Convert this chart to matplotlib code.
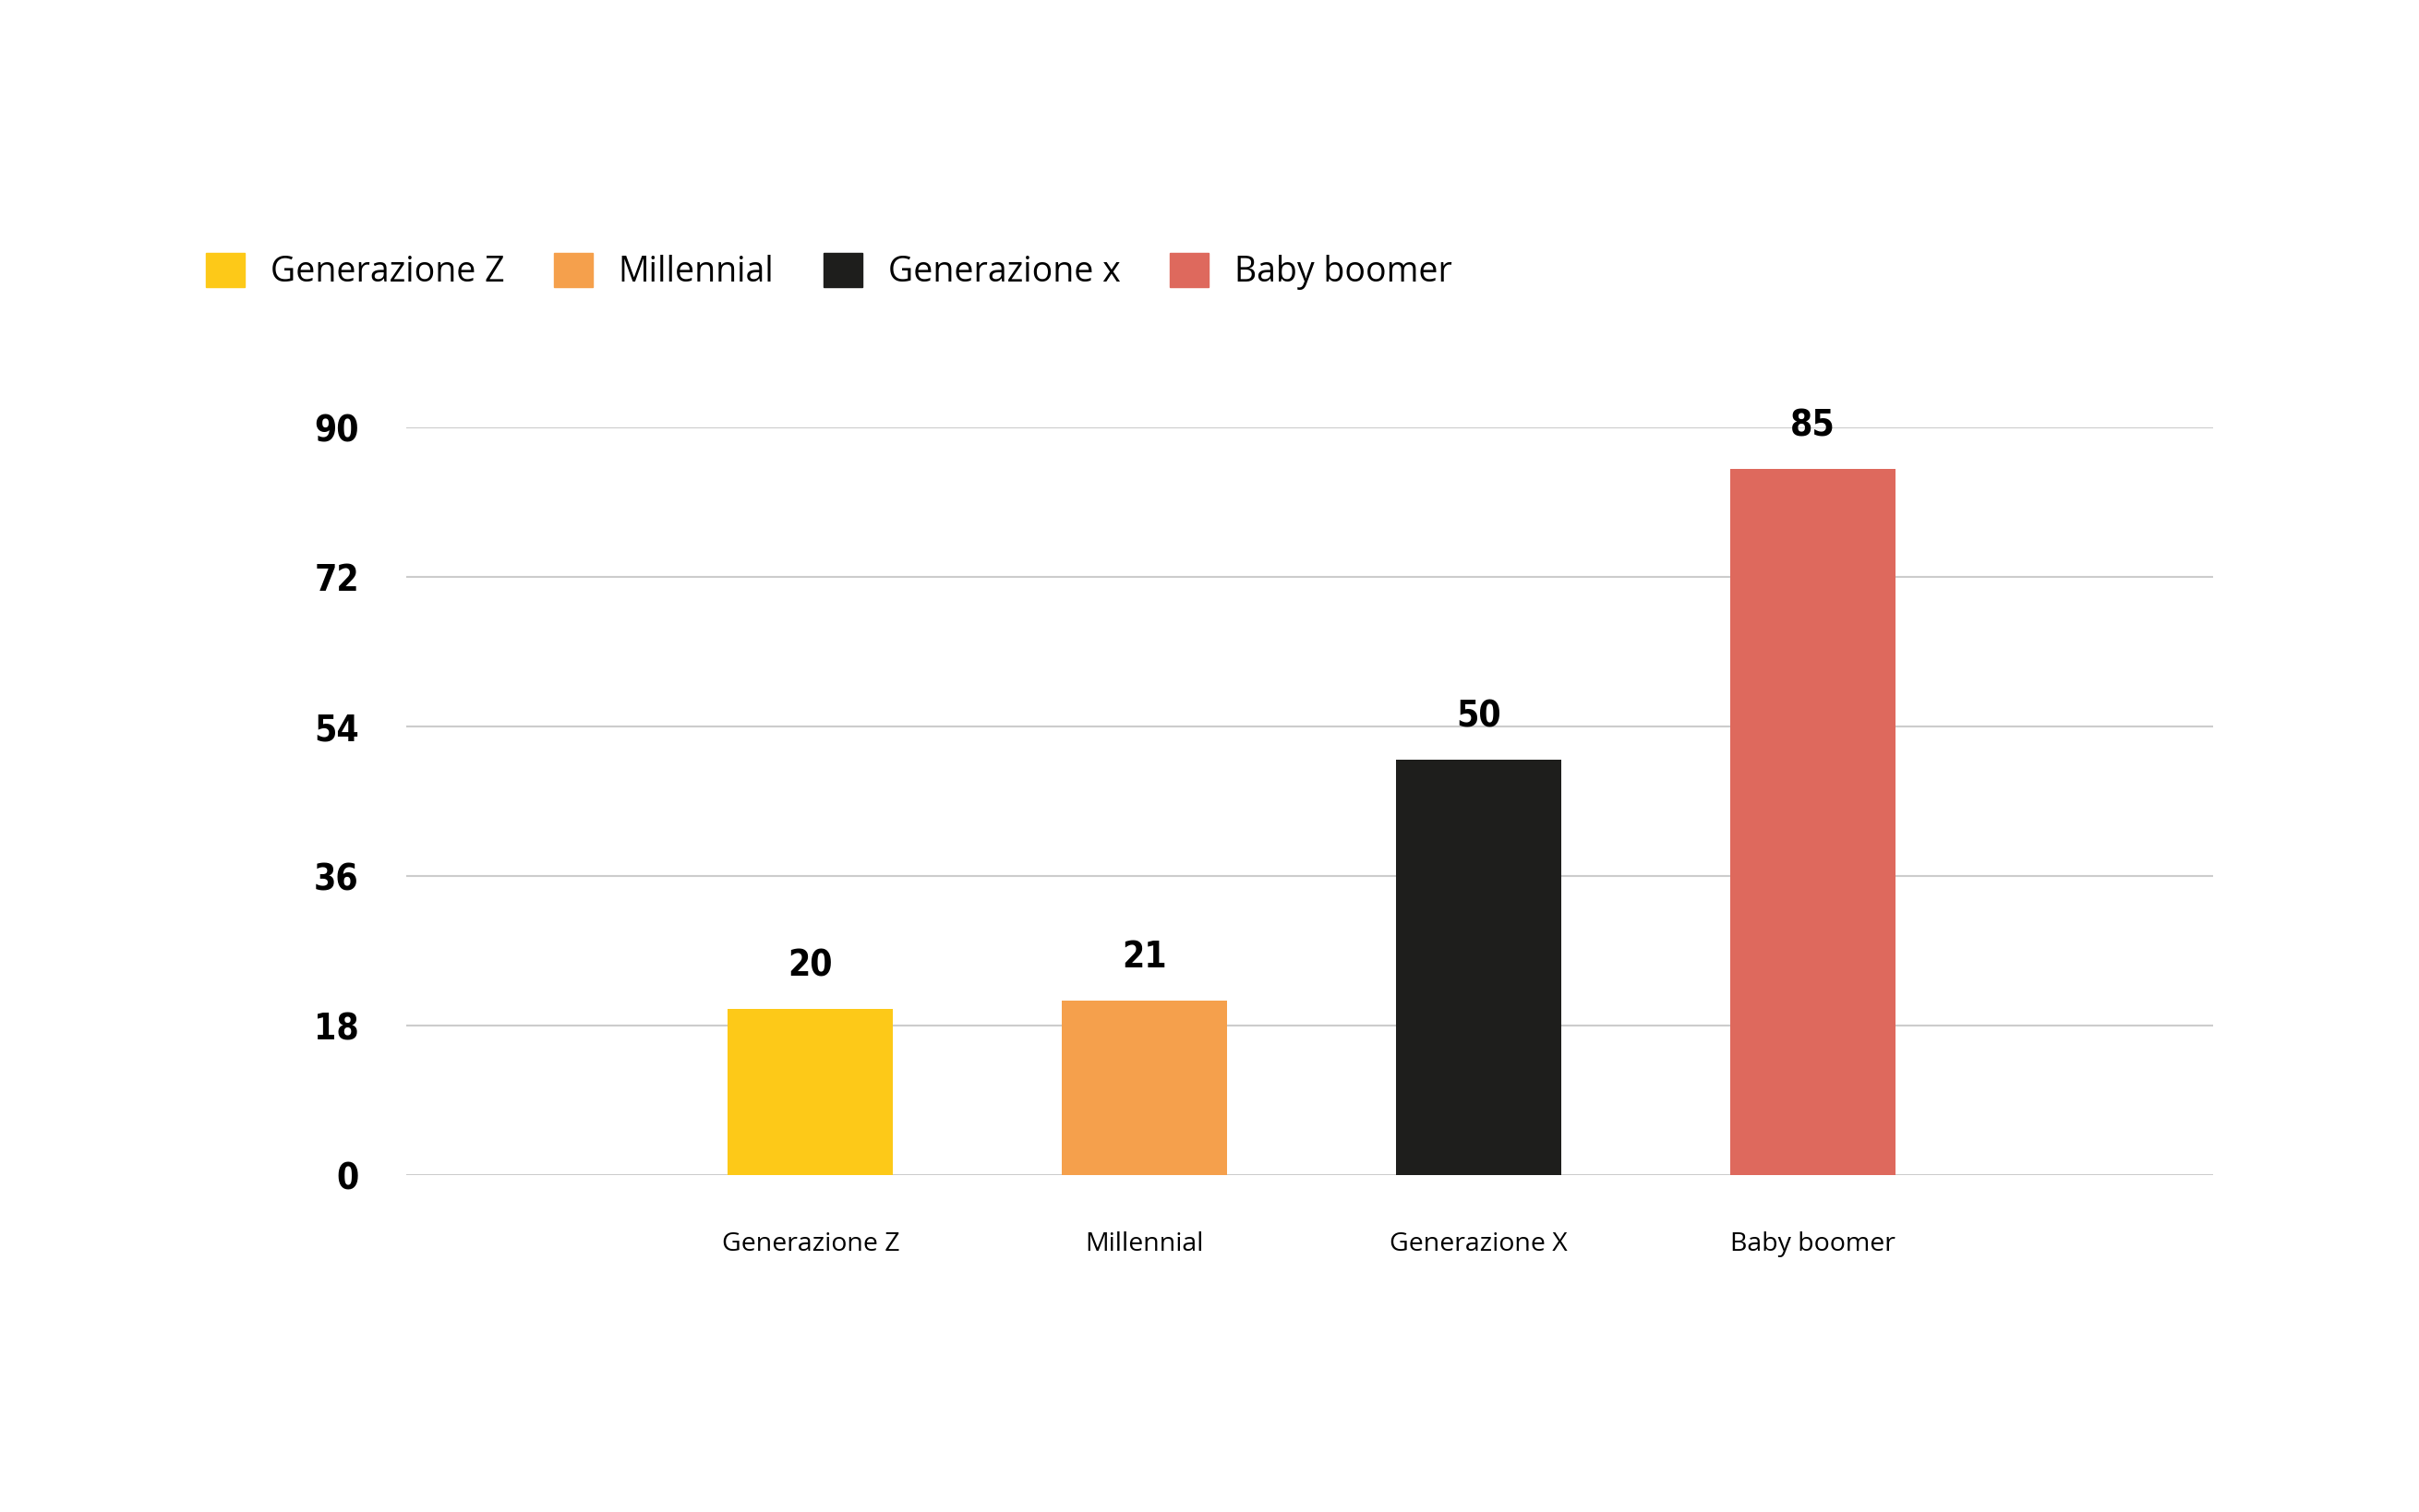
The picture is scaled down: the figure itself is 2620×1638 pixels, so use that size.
import matplotlib
matplotlib.use("Agg")
import matplotlib.pyplot as plt
import matplotlib.patches as mpatches

# data
categories = ["Generazione Z", "Millennial", "Generazione X", "Baby boomer"]
legend_labels = ["Generazione Z", "Millennial", "Generazione x", "Baby boomer"]
values = [20, 21, 50, 85]
colors = ["#FDC918", "#F5A04C", "#1E1E1C", "#DE695D"]
yticks = [0, 18, 36, 54, 72, 90]

num_font = dict(family=["DejaVu Sans"], weight="bold", stretch="condensed")
txt_font = ["Open Sans", "DejaVu Sans"]

fig = plt.figure(figsize=(26.2, 16.38), dpi=100)
ax = fig.add_axes([0.168, 0.2228, 0.747, 0.4945])

x = list(range(len(values)))
bars = ax.bar(x, values, width=0.495, color=colors, zorder=3)

ax.set_ylim(0, 90)
ax.set_xlim(-1.21, 4.20)
ax.set_yticks(yticks)
ax.yaxis.grid(True, color="#CCCCCC", linewidth=1.5, zorder=0)
for s in ax.spines.values():
    s.set_visible(False)
ax.tick_params(axis="both", length=0)
ax.tick_params(axis="y", pad=37)
ax.tick_params(axis="x", pad=44)
for lab in ax.get_yticklabels():
    lab.set_fontsize(28)
    lab.set_fontfamily(num_font["family"])
    lab.set_fontweight("bold")
    lab.set_fontstretch("condensed")

ax.set_xticks(x)
ax.set_xticklabels(categories, fontsize=20.5, family=txt_font)

# value labels above the bars
for b, v in zip(bars, values):
    ax.annotate(str(v), (b.get_x() + b.get_width() / 2, v),
                xytext=(0, 20), textcoords="offset points",
                ha="center", va="bottom", fontsize=28, **num_font)

# legend
handles = [mpatches.Patch(color=c) for c in colors]
fig.legend(handles, legend_labels, ncol=4, loc="center left",
           bbox_to_anchor=(0.085, 0.8205), frameon=False,
           prop={"family": txt_font, "size": 27},
           handlelength=1.12, handleheight=1.12, handletextpad=0.75,
           columnspacing=1.42, borderaxespad=0, borderpad=0)

fig.savefig("out.png", dpi=100, facecolor="white")
